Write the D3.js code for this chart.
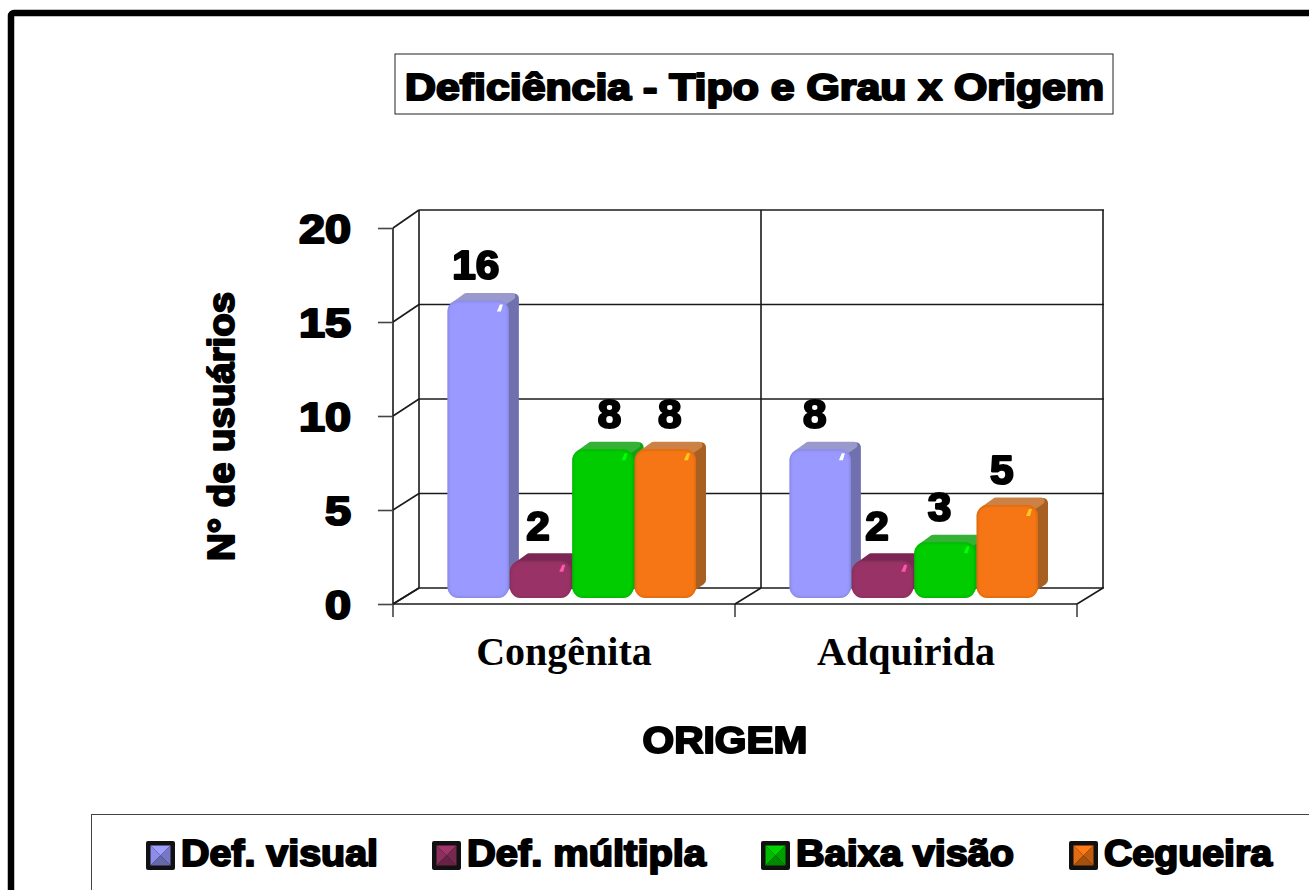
<!DOCTYPE html>
<html>
<head>
<meta charset="utf-8">
<script src="https://d3js.org/d3.v7.min.js"></script>
<style>
  html, body { margin: 0; padding: 0; background: #fff; overflow: hidden; }
  svg { display: block; }
  .heavy { font-family: "Liberation Sans", Arial, sans-serif; font-weight: bold; fill: #000; stroke: #000; stroke-linejoin: round; }
  .wall { stroke: #1a1a1a; stroke-width: 1.6; fill: none; }
  .axis path { display: none; }
  .axis line { stroke: #444; stroke-width: 1.6; }
</style>
</head>
<body>
<div id="chart"></div>
<script>
var categories = ["Congênita", "Adquirida"];
var seriesNames = ["Def. visual", "Def. múltipla", "Baixa visão", "Cegueira"];
var defVisual = [16, 8];
var defMultipla = [2, 2];
var baixaVisao = [8, 3];
var cegueira = [8, 5];
var yTicks = [0, 5, 10, 15, 20];

var seriesValues = [defVisual, defMultipla, baixaVisao, cegueira];

// colours per series: front, side, top
var frontColors = ["#9999ff", "#993366", "#00cc00", "#f67614"];
var sideColors = ["#7070ae", "#7a2a52", "#12a012", "#a86122"];
var topColors = ["#9999cc", "#7c2855", "#36b236", "#cc8244"];

var width = 1309, height = 890;
var depthX = 26;                    // wall depth
var barDepthX = 10, barDepthY = 8;  // bar depth
var barRound = 11;

var svg = d3.select("#chart").append("svg").attr("width", width).attr("height", height);
var defs = svg.append("defs");
defs.append("filter").attr("id", "soft").append("feGaussianBlur").attr("stdDeviation", 0.6);
defs.append("filter").attr("id", "bevel").append("feGaussianBlur").attr("stdDeviation", 1.8);

// outer frame runs off the page to the right and bottom
svg.append("rect").attr("x", 11).attr("y", 13).attr("width", width + 40).attr("height", height + 40)
    .attr("rx", 3).attr("fill", "#fff").attr("stroke", "#000").attr("stroke-width", 6.5);

// title
svg.append("rect").attr("x", 395).attr("y", 54).attr("width", 718).attr("height", 60)
    .attr("fill", "#fff").attr("stroke", "#222").attr("stroke-width", 1);
svg.append("text").attr("class", "heavy").attr("x", 754.5).attr("y", 99.5)
    .attr("text-anchor", "middle").attr("font-size", 37).attr("stroke-width", 2.2)
    .attr("textLength", 699).attr("lengthAdjust", "spacingAndGlyphs")
    .text("Deficiência - Tipo e Grau x Origem");

var x = d3.scaleBand().domain(categories).range([393, 1077]);
var y = d3.scaleLinear().domain([0, 20]).range([604, 228]);
var yBack = d3.scaleLinear().domain([0, 20]).range([588, 210]);
var yBar = d3.scaleLinear().domain([0, 20]).range([598, 226]);
var inner = d3.scaleBand().domain(seriesNames).range([0, 249.5]);
var barLeft = function(cat) { return x(cat) + 54.5; };

var plot = svg.append("g");

// back wall gridlines, left wall and floor
yTicks.forEach(function(t) {
  plot.append("line").attr("class", "wall")
      .attr("x1", x.range()[0] + depthX).attr("x2", x.range()[1] + depthX + 1)
      .attr("y1", yBack(t)).attr("y2", yBack(t));
  plot.append("line").attr("class", "wall")
      .attr("x1", x.range()[0]).attr("x2", x.range()[0] + depthX)
      .attr("y1", y(t)).attr("y2", yBack(t));
});
var edges = categories.map(function(c) { return x(c); }).concat([x.range()[1]]);
edges.forEach(function(e) {
  plot.append("line").attr("class", "wall")
      .attr("x1", e + depthX).attr("x2", e + depthX)
      .attr("y1", yBack(20)).attr("y2", yBack(0));
  plot.append("line").attr("class", "wall")
      .attr("x1", e).attr("x2", e + depthX)
      .attr("y1", y(0)).attr("y2", yBack(0));
  plot.append("line").attr("stroke", "#444").attr("stroke-width", 1.6)
      .attr("x1", e).attr("x2", e)
      .attr("y1", y(0)).attr("y2", y(0) + 13);
});
plot.append("line").attr("class", "wall").attr("x1", x.range()[0]).attr("x2", x.range()[0])
    .attr("y1", y(20)).attr("y2", y(0));
plot.append("line").attr("class", "wall").attr("x1", x.range()[0]).attr("x2", x.range()[1])
    .attr("y1", y(0)).attr("y2", y(0));

// y axis
var yAxis = d3.axisLeft(y).tickValues(yTicks).tickSize(15).tickPadding(27).tickFormat(d3.format("d"));
var yG = plot.append("g").attr("class", "axis").attr("transform", "translate(393,0)").call(yAxis);
yG.selectAll("text").attr("class", "heavy").attr("font-size", 40).attr("stroke-width", 2.2)
    .attr("dy", "0.37em").attr("font-family", null)
    .attr("textLength", function(d) { return String(d).length * 26; })
    .attr("lengthAdjust", "spacingAndGlyphs");

// x axis labels
var xAxis = d3.axisBottom(x).tickSize(0).tickPadding(33);
var xG = plot.append("g").attr("class", "axis").attr("transform", "translate(0,604)").call(xAxis);
xG.selectAll("text").attr("font-family", "Liberation Serif, Times New Roman, serif")
    .attr("font-weight", "bold").attr("font-size", 40).attr("fill", "#000");

// axis titles
svg.append("text").attr("class", "heavy").attr("x", 725).attr("y", 753).attr("text-anchor", "middle")
    .attr("font-size", 37).attr("stroke-width", 2)
    .attr("textLength", 165).attr("lengthAdjust", "spacingAndGlyphs").text("ORIGEM");
svg.append("text").attr("class", "heavy").attr("transform", "translate(234,426.5) rotate(-90)")
    .attr("text-anchor", "middle").attr("font-size", 36).attr("stroke-width", 2)
    .attr("textLength", 269).attr("lengthAdjust", "spacingAndGlyphs").text("N° de usuários");

// bars, left to right so each one covers the side of the previous
var bars = plot.append("g").attr("filter", "url(#soft)");
categories.forEach(function(cat, ci) {
  seriesNames.forEach(function(name, si) {
    var v = seriesValues[si][ci];
    var x0 = barLeft(cat) + inner(name), w = inner.bandwidth();
    var yT = yBar(v), yB = yBar(0);
    var g = bars.append("g");
    var clipId = "clip" + ci + "_" + si;
    defs.append("clipPath").attr("id", clipId).append("rect")
        .attr("x", x0).attr("y", yT).attr("width", w - 1).attr("height", yB - yT).attr("rx", barRound);

    // side face, inset and rounded with a wide stroke
    g.append("path")
        .attr("d", d3.line()([[x0 + w - 14, yT + 6], [x0 + w + barDepthX - 6, yT - barDepthY + 6],
                              [x0 + w + barDepthX - 6, yB - barDepthY - 10], [x0 + w - 14, yB - 6]]) + "Z")
        .attr("fill", sideColors[si]).attr("stroke", sideColors[si]).attr("stroke-width", 10).attr("stroke-linejoin", "round");
    // top face
    g.append("path")
        .attr("d", d3.line()([[x0 + 8, yT + 4], [x0 + barDepthX + 9, yT - barDepthY + 4],
                              [x0 + w + barDepthX - 8, yT - barDepthY + 4], [x0 + w - 10, yT + 4]]) + "Z")
        .attr("fill", topColors[si]).attr("stroke", topColors[si]).attr("stroke-width", 7).attr("stroke-linejoin", "round");
    // front face with a soft bevel
    g.append("rect").attr("x", x0).attr("y", yT).attr("width", w - 1).attr("height", yB - yT).attr("rx", barRound)
        .attr("fill", frontColors[si]);
    var bev = g.append("g").attr("clip-path", "url(#" + clipId + ")");
    bev.append("rect").attr("x", x0 - 1).attr("y", yT - 1).attr("width", w + 1).attr("height", yB - yT + 2).attr("rx", barRound)
        .attr("fill", "none").attr("stroke", d3.color(frontColors[si]).darker(0.5)).attr("stroke-width", 3.5)
        .attr("filter", "url(#bevel)");
    // glint at the top right corner
    g.append("path")
        .attr("d", d3.line()([[x0 + w - 13, yT + 11], [x0 + w - 10, yT + 4], [x0 + w - 7, yT + 4], [x0 + w - 9, yT + 11]]) + "Z")
        .attr("fill", d3.color(frontColors[si]).brighter(1.5));
  });
});

// value labels
var labelDx = [[-3, -3, 6, 4], [-6, -6, -6, -6]];
categories.forEach(function(cat, ci) {
  seriesNames.forEach(function(name, si) {
    var v = seriesValues[si][ci];
    plot.append("text").attr("class", "heavy")
        .attr("x", barLeft(cat) + inner(name) + inner.bandwidth() / 2 + labelDx[ci][si])
        .attr("y", yBar(v) - barDepthY - 13)
        .attr("text-anchor", "middle").attr("font-size", 40).attr("stroke-width", 2.2)
        .attr("textLength", String(v).length * 23.5).attr("lengthAdjust", "spacingAndGlyphs")
        .text(v);
  });
});

// legend box also runs off the page
svg.append("rect").attr("x", 91.5).attr("y", 814.5).attr("width", width).attr("height", 120)
    .attr("fill", "#fff").attr("stroke", "#444").attr("stroke-width", 1);
var legendX = [146, 432, 761, 1069];
var legendW = [197, 239, 218, 168];
seriesNames.forEach(function(name, si) {
  var g = svg.append("g").attr("transform", "translate(" + legendX[si] + ",841)");
  var s = 29, p = 4.5, c = s / 2;
  g.append("rect").attr("width", s).attr("height", s).attr("rx", 2).attr("fill", "#111");
  var base = d3.color(frontColors[si]);
  var tris = [
    [[p, p], [s - p, p], [c, c], base.brighter(0.1)],
    [[p, p], [c, c], [p, s - p], base.darker(0.25)],
    [[s - p, p], [s - p, s - p], [c, c], base.darker(0.7)],
    [[p, s - p], [c, c], [s - p, s - p], base.darker(1.1)]
  ];
  tris.forEach(function(t) {
    g.append("path").attr("d", d3.line()(t.slice(0, 3)) + "Z").attr("fill", t[3]);
  });
  svg.append("text").attr("class", "heavy").attr("x", legendX[si] + 35).attr("y", 866)
      .attr("font-size", 36).attr("stroke-width", 2)
      .attr("textLength", legendW[si]).attr("lengthAdjust", "spacingAndGlyphs")
      .text(name);
});
</script>
</body>
</html>
